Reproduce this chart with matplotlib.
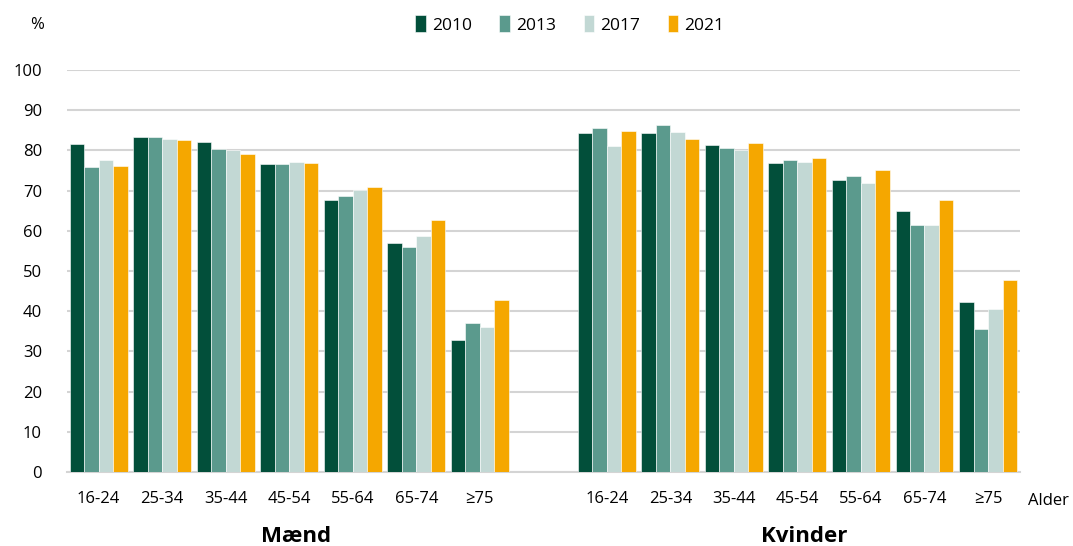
import numpy as np
import matplotlib
matplotlib.use("Agg")
import matplotlib.pyplot as plt

plt.rcParams["font.family"] = ["Open Sans", "DejaVu Sans"]

# Data (percent)
ages = ["16-24", "25-34", "35-44", "45-54", "55-64", "65-74", "≥75"]
years = ["2010", "2013", "2017", "2021"]

maend_2010 = [81.5, 83.3, 82.2, 76.5, 67.7, 56.9, 32.8]
maend_2013 = [75.8, 83.3, 80.3, 76.5, 68.6, 56.0, 37.1]
maend_2017 = [77.6, 82.8, 80.1, 77.0, 70.1, 58.7, 36.1]
maend_2021 = [76.1, 82.5, 79.2, 76.8, 71.0, 62.7, 42.7]

kvinder_2010 = [84.3, 84.3, 81.3, 76.8, 72.6, 65.0, 42.4]
kvinder_2013 = [85.5, 86.4, 80.6, 77.6, 73.7, 61.4, 35.5]
kvinder_2017 = [81.0, 84.6, 80.1, 77.0, 71.9, 61.4, 40.5]
kvinder_2021 = [84.8, 82.8, 81.8, 78.2, 75.2, 67.7, 47.8]

colors = ["#024f3a", "#5b9a8d", "#c2d8d4", "#f5a700"]

maend = [maend_2010, maend_2013, maend_2017, maend_2021]
kvinder = [kvinder_2010, kvinder_2013, kvinder_2017, kvinder_2021]

fig = plt.figure(figsize=(10.73, 5.46), dpi=100)
ax = fig.add_axes([0.0624, 0.1355, 0.888, 0.7363])

x_m = np.arange(len(ages))
x_k = np.arange(len(ages)) + len(ages) + 1
w = 0.228

for i, yr in enumerate(years):
    off = (i - 1.5) * w
    ax.bar(x_m + off, maend[i], width=w, color=colors[i], edgecolor="white",
           linewidth=0.4, label=yr, zorder=3)
    ax.bar(x_k + off, kvinder[i], width=w, color=colors[i], edgecolor="white",
           linewidth=0.4, zorder=3)

ax.set_xlim(-0.5, 14.5)
ax.set_ylim(0, 100)
ax.set_yticks(range(0, 101, 10))
ax.yaxis.grid(True, color="#d4d4d4", linewidth=1.5, zorder=0)
ax.set_axisbelow(True)
for s in ["top", "right", "left"]:
    ax.spines[s].set_visible(False)
ax.spines["bottom"].set_color("#d4d4d4")
ax.spines["bottom"].set_linewidth(1.5)

ax.set_xticks(np.concatenate([x_m, x_k]))
ax.set_xticklabels(ages + ages, fontsize=12)
ax.tick_params(axis="x", length=0, pad=14)
ax.tick_params(axis="y", length=0, pad=18, labelsize=12)

fig.text(0.035, 0.955, "%", fontsize=12, ha="center", va="center")
fig.text(0.977, 0.083, "Alder", fontsize=12, ha="center", va="center")
ax.text(3.1, -0.16, "Mænd", transform=ax.get_xaxis_transform(),
        fontsize=16, fontweight="bold", ha="center", va="center")
ax.text(11.1, -0.16, "Kvinder", transform=ax.get_xaxis_transform(),
        fontsize=16, fontweight="bold", ha="center", va="center")

fig.legend(loc="center", bbox_to_anchor=(0.531, 0.955), ncol=4, frameon=False,
           fontsize=12.5, handlelength=0.6, handleheight=1.1, handletextpad=0.35,
           columnspacing=1.6)

fig.savefig("out.png", dpi=100)
